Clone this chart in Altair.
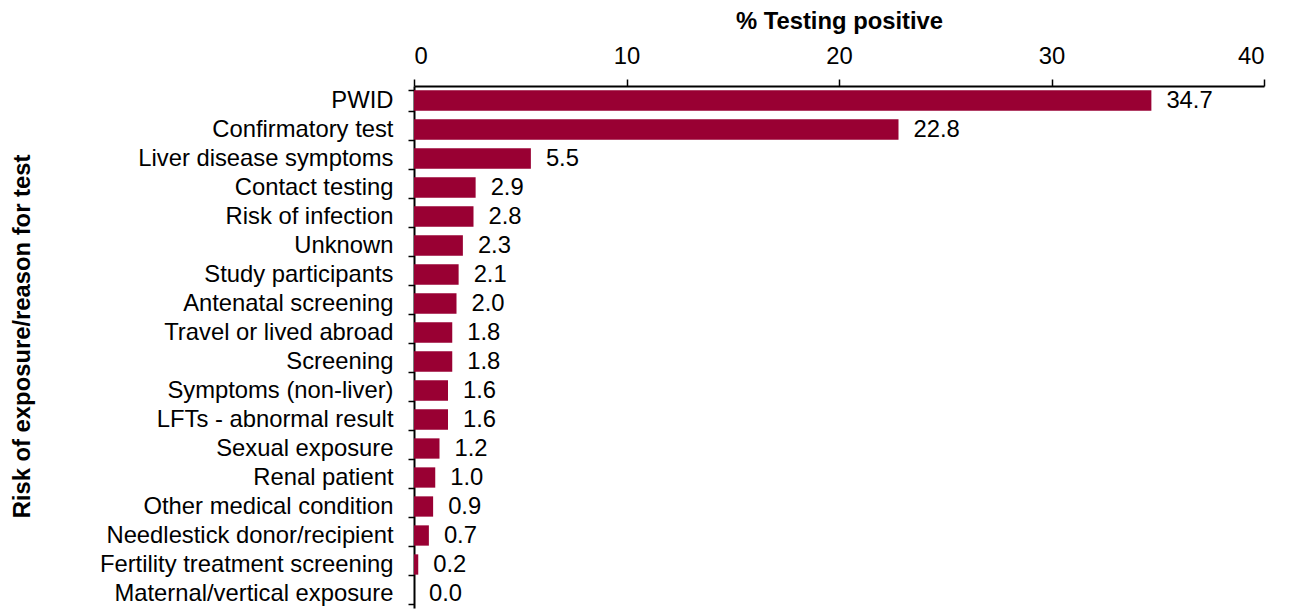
import altair as alt
import pandas as pd

categories = ["PWID", "Confirmatory test", "Liver disease symptoms", "Contact testing",
              "Risk of infection", "Unknown", "Study participants", "Antenatal screening",
              "Travel or lived abroad", "Screening", "Symptoms (non-liver)",
              "LFTs - abnormal result", "Sexual exposure", "Renal patient",
              "Other medical condition", "Needlestick donor/recipient",
              "Fertility treatment screening", "Maternal/vertical exposure"]
values = [34.7, 22.8, 5.5, 2.9, 2.8, 2.3, 2.1, 2.0, 1.8, 1.8, 1.6, 1.6, 1.2, 1.0, 0.9, 0.7, 0.2, 0.0]
x_ticks = [0, 10, 20, 30, 40]

df = pd.DataFrame({"cat": categories, "val": values})

FONT = "Liberation Sans"
FS = 23.8

y_enc = alt.Y("cat:N", sort=categories, title="Risk of exposure/reason for test",
              scale=alt.Scale(paddingInner=0.3, paddingOuter=0.15),
              axis=alt.Axis(tickBand="extent", tickSize=6, labelPadding=15,
                            labelFontSize=FS, labelFont=FONT, labelColor="black",
                            domainColor="black", tickColor="black", domainWidth=2, tickWidth=1.5,
                            titleFont=FONT, titleFontSize=FS, titleFontWeight="bold",
                            titleColor="black", titleAngle=-90, titleX=-392, titleY=250,
                            titleAlign="center", titleBaseline="middle", labelLimit=400))

x_enc = alt.X("val:Q", scale=alt.Scale(domain=[0, 40], nice=False),
              axis=alt.Axis(orient="top", values=x_ticks, grid=False, title="% Testing positive",
                            tickSize=7, labelPadding=11, labelFontSize=FS, labelFont=FONT,
                            labelColor="black", domainColor="black", tickColor="black",
                            domainWidth=2, tickWidth=1.5,
                            titleFont=FONT, titleFontSize=FS, titleFontWeight="bold",
                            titleColor="black", titleY=-58, titleBaseline="alphabetic"))

base = alt.Chart(df).encode(y=y_enc)
bars = base.mark_bar(color="#990033").encode(x=x_enc)
text = base.mark_text(align="left", baseline="middle", dx=15, fontSize=FS, font=FONT,
                      color="black").encode(x=alt.X("val:Q"),
                                            text=alt.Text("val:Q", format=".1f"))

chart = (bars + text).properties(
    width=850, height=522,
    autosize=alt.AutoSizeParams(type="none"),
    padding={"left": 406, "top": 78, "right": 17, "bottom": 2},
    background="white",
).configure_view(stroke=None)

chart.save("out.html", embed_options={"renderer": "svg", "actions": False})
